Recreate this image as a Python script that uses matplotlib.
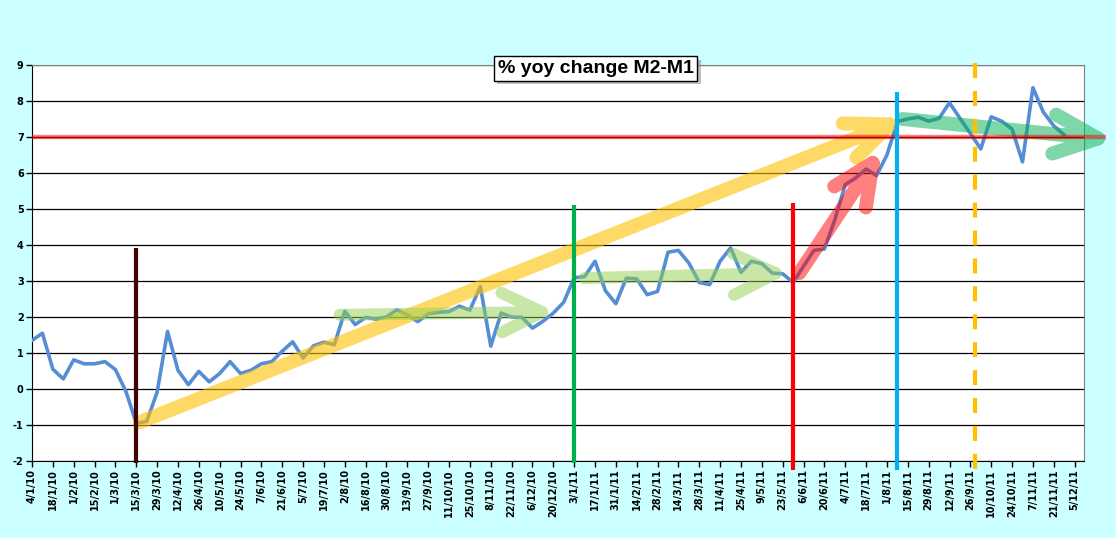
import numpy as np
import pandas as pd
import matplotlib
matplotlib.use("Agg")
import matplotlib.pyplot as plt
import matplotlib.patheffects as pe
from matplotlib.path import Path
from matplotlib.patches import PathPatch
from matplotlib.transforms import IdentityTransform

plt.rcParams["axes.unicode_minus"] = False

# weekly observations, 4/1/10 .. 28/11/11
weeks = pd.date_range("2010-01-04", periods=100, freq="7D")
yoy = [
    1.35, 1.55, 0.55, 0.28, 0.81, 0.70, 0.70, 0.76, 0.54, -0.06,
    -0.95, -0.90, -0.09, 1.60, 0.52, 0.12, 0.49, 0.20, 0.43, 0.76,
    0.43, 0.52, 0.70, 0.76, 1.05, 1.31, 0.86, 1.20, 1.30, 1.23,
    2.16, 1.79, 1.99, 1.94, 2.00, 2.20, 2.06, 1.87, 2.09, 2.13,
    2.15, 2.30, 2.19, 2.85, 1.19, 2.11, 2.00, 1.99, 1.69, 1.88,
    2.11, 2.41, 3.09, 3.12, 3.55, 2.73, 2.37, 3.08, 3.06, 2.62,
    2.71, 3.80, 3.85, 3.50, 2.96, 2.90, 3.55, 3.92, 3.24, 3.55,
    3.48, 3.22, 3.20, 2.96, 3.41, 3.85, 3.89, 4.70, 5.68, 5.86,
    6.11, 5.93, 6.50, 7.43, 7.50, 7.55, 7.44, 7.52, 7.95, 7.52,
    7.10, 6.67, 7.56, 7.44, 7.22, 6.31, 8.37, 7.69, 7.31, 7.06,
]
tick_dates = pd.date_range("2010-01-04", "2011-12-05", freq="14D")
tick_labels = [f"{d.day}/{d.month}/{d:%y}" for d in tick_dates]

threshold = 7.0

# vertical event markers: (week index, top value, colour, dashed)
markers = [
    (10, 3.92, "#3F0505", False),
    (52, 5.11, "#00B050", False),
    (73, 5.17, "#FF0000", False),
    (83, 8.25, "#00B0F0", False),
    (90.4, 9.05, "#FFC000", True),
]

# hand-drawn trend arrows: (tail, tip, colour, width px, head px, half angle)
arrows = [
    ((10.35, -0.92), (82.9, 7.42), "#FFC000", 14, 47, 23),
    ((29.5, 2.06), (49.5, 2.14), "#92D050", 12, 45, 26),
    ((53.0, 3.08), (71.9, 3.22), "#92D050", 12, 47, 26),
    ((73.6, 3.22), (81.0, 6.44), "#FF0000", 14, 45, 25),
    ((83.5, 7.50), (102.9, 6.94), "#00B050", 14, 48, 24),
]
arrow_alpha = {"#FFC000": 0.6, "#92D050": 0.5, "#FF0000": 0.5, "#00B050": 0.5}


def fat_arrow(ax, tail, tip, color, width, head, half_angle, alpha):
    p0 = ax.transData.transform(tail)
    p1 = ax.transData.transform(tip)
    d = (p0 - p1) / np.hypot(*(p0 - p1))
    p1 = p1 + d * width / 2
    t = np.radians(half_angle)
    rot = lambda v, a: np.array([v[0] * np.cos(a) - v[1] * np.sin(a),
                                 v[0] * np.sin(a) + v[1] * np.cos(a)])
    w1 = p1 + head * rot(d, t)
    w2 = p1 + head * rot(d, -t)
    path = Path([p0, p1, w1, p1, w2],
                [Path.MOVETO, Path.LINETO, Path.MOVETO, Path.LINETO, Path.LINETO])
    patch = PathPatch(path, facecolor="none", edgecolor=color, lw=width * 0.72,
                      alpha=alpha, capstyle="round", joinstyle="round",
                      transform=IdentityTransform(), clip_on=False, zorder=4)
    ax.add_artist(patch)


fig = plt.figure(figsize=(11.16, 5.38), dpi=100, facecolor="#CCFFFF")
ax = fig.add_axes([32 / 1116, 77 / 538, 1052 / 1116, 396 / 538])
ax.set_facecolor("white")

x = np.arange(len(weeks))
ax.set_xlim(0, 100.9)
ax.set_ylim(-2, 9)

ax.plot(x, yoy, color="#558ED5", lw=2.6, zorder=3, solid_joinstyle="round")

ax.set_yticks(range(-2, 10))
ax.yaxis.grid(True, color="black", lw=0.9)
ax.set_axisbelow(True)
ax.set_xticks(np.arange(0, 2 * len(tick_labels), 2))
ax.set_xticklabels(tick_labels, rotation=90, fontsize=7, fontweight="bold",
                   fontfamily="DejaVu Sans")
for lab in ax.get_yticklabels():
    lab.set_fontweight("bold")
    lab.set_fontsize(7)
ax.tick_params(direction="out", length=4, width=1, color="black", pad=2)

for side in ["top", "right"]:
    ax.spines[side].set_color("#808080")
for side in ["left", "bottom"]:
    ax.spines[side].set_color("black")

# 7% reference line
ax.plot([0, 103.0], [threshold, threshold], color="#FF0000", lw=3.2, alpha=0.5,
        clip_on=False, zorder=5, solid_capstyle="butt")
ax.axhline(threshold, color="#A00000", lw=0.9, zorder=5)

for xi, top, col, dashed in markers:
    bottom = -2.25 if xi > 60 else -2.05
    ax.plot([xi, xi], [top, bottom], color=col, lw=3.0, clip_on=False, zorder=6,
            ls=(0, (3.6, 3.1)) if dashed else "-", solid_capstyle="butt",
            dash_capstyle="butt")

for tail, tip, col, w, head, ang in arrows:
    fat_arrow(ax, tail, tip, col, w, head, ang, arrow_alpha[col])

title = fig.text(595.5 / 1116, 1 - 68.5 / 538, "% yoy change M2-M1", fontsize=14,
                 fontweight="bold", fontfamily="Liberation Sans",
                 ha="center", va="center", color="black", zorder=9,
                 bbox=dict(boxstyle="square,pad=0.2", fc="white", ec="black", lw=1))
title.get_bbox_patch().set_path_effects(
    [pe.SimplePatchShadow(offset=(2.5, -2.5), shadow_rgbFace="#808080", alpha=0.5),
     pe.Normal()])

fig.savefig("out.png", dpi=100, facecolor=fig.get_facecolor())
